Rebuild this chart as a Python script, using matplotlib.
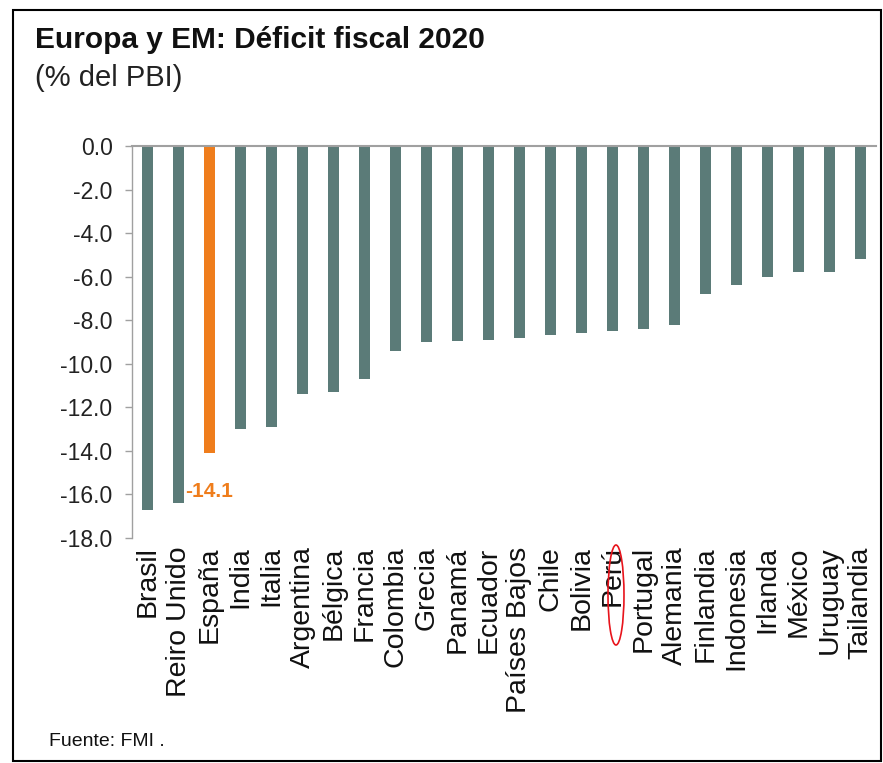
import matplotlib
matplotlib.use("Agg")
import matplotlib.pyplot as plt
from matplotlib.patches import Rectangle, Ellipse

plt.rcParams['font.family'] = ['Liberation Sans', 'DejaVu Sans']

paises = ["Brasil", "Reiro Unido", "España", "India", "Italia", "Argentina",
          "Bélgica", "Francia", "Colombia", "Grecia", "Panamá", "Ecuador",
          "Países Bajos", "Chile", "Bolivia", "Perú", "Portugal", "Alemania",
          "Finlandia", "Indonesia", "Irlanda", "México", "Uruguay", "Tailandia"]
deficit = [-16.7, -16.4, -14.1, -13.0, -12.9, -11.4,
           -11.3, -10.7, -9.4, -9.0, -8.95, -8.9,
           -8.8, -8.7, -8.6, -8.5, -8.4, -8.2,
           -6.8, -6.4, -6.0, -5.8, -5.8, -5.2]
destacado = "España"
marcado = "Perú"
yticks = [0, -2, -4, -6, -8, -10, -12, -14, -16, -18]

gris = "#5b7b78"
naranja = "#ef7d1c"

fig = plt.figure(figsize=(8.83, 7.63), dpi=100)
ax = fig.add_axes([0.1495, 0.2949, 0.8425, 0.5137])

colores = [naranja if p == destacado else gris for p in paises]
x = list(range(len(paises)))
ax.bar(x, deficit, width=0.33, color=colores, zorder=2)

ax.set_xlim(-0.5, 23.5)
ax.set_ylim(-18, 0)
ax.set_yticks(yticks)
ax.set_yticklabels(["%.1f" % v for v in yticks], fontsize=16.5, color="#222222")
ax.tick_params(axis="y", direction="out", length=5, color="#a0a0a0", width=1, pad=9)

ax.set_xticks(x)
ax.set_xticklabels(paises, rotation=90, fontsize=20.5, color="#111111", va="top", ha="center")
ax.tick_params(axis="x", length=0, pad=6)

for s in ["bottom", "right"]:
    ax.spines[s].set_visible(False)
ax.spines["top"].set_color("#a0a0a0")
ax.spines["top"].set_linewidth(1.5)
ax.spines["left"].set_color("#a0a0a0")
ax.spines["left"].set_linewidth(1)

# etiqueta del valor de España
i = paises.index(destacado)
ax.annotate("%.1f" % deficit[i], xy=(i, deficit[i]), xytext=(0, -38),
            textcoords="offset pixels", ha="center", va="center",
            fontsize=15, fontweight="bold", color=naranja)

# marco alrededor de Perú
j = paises.index(marcado)
px = ax.transData.transform((j, 0))[0] / fig.bbox.width
fig.patches.append(Ellipse((px + 0.004, 1 - 595 / 763), 16 / 883, 100 / 763,
                           transform=fig.transFigure, fill=False,
                           edgecolor="#e8141c", linewidth=1.2))

fig.text(35 / 883, 1 - 40 / 763, "Europa y EM: Déficit fiscal 2020",
         fontsize=21.5, fontweight="bold", color="#111111", va="center")
fig.text(35 / 883, 1 - 78 / 763, "(% del PBI)", fontsize=21,
         color="#222222", va="center")
fig.text(49 / 883, 1 - 742 / 763, "Fuente: FMI .", fontsize=14,
         color="#111111", va="center")

fig.patches.append(Rectangle((13 / 883, 1 - 761 / 763), 868 / 883, 751 / 763,
                             transform=fig.transFigure, fill=False,
                             edgecolor="black", linewidth=1.5))

fig.savefig("out.png", dpi=100)
